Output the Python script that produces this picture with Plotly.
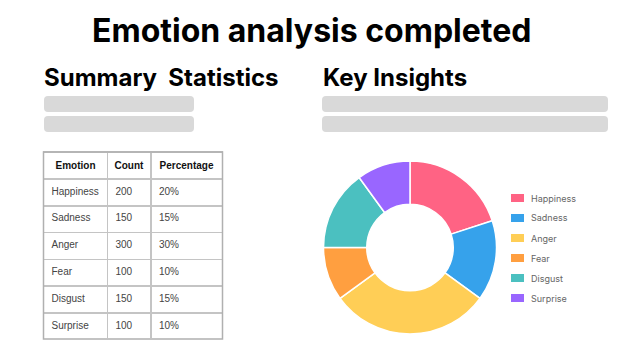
import plotly.graph_objects as go

W, H = 633, 360

emotions = ["Happiness", "Sadness", "Anger", "Fear", "Disgust", "Surprise"]
counts = [200, 150, 300, 100, 150, 100]
percentages = ["20%", "15%", "30%", "10%", "15%", "10%"]
colors = ["#FF6384", "#36A2EB", "#FFCE56", "#FF9F40", "#4BC0C0", "#9966FF"]
table_headers = ["Emotion", "Count", "Percentage"]

title_text = "Emotion analysis completed"
left_heading = "Summary&nbsp;&nbsp;Statistics"
right_heading = "Key Insights"


def px(x):
    return x / W


def py(y):
    return 1 - y / H


fig = go.Figure()

fig.add_trace(go.Table(
    domain=dict(x=[px(43.5), px(223)], y=[py(339), py(152)]),
    columnwidth=[64, 43.5, 71.5],
    header=dict(
        values=[f"<b>{h}</b>" for h in table_headers],
        align="center",
        font=dict(family="Liberation Sans, Arial", size=10, color="#111"),
        fill_color="white",
        line=dict(color="#c4c4c4", width=1.5),
        height=26,
    ),
    cells=dict(
        values=[emotions, [str(c) for c in counts], percentages],
        align="left",
        font=dict(family="Liberation Sans, Arial", size=10, color="#444"),
        fill_color="white",
        line=dict(color="#c4c4c4", width=1.5),
        height=26.8,
    ),
))

fig.add_trace(go.Pie(
    labels=emotions,
    values=counts,
    marker=dict(colors=colors, line=dict(color="white", width=1.5)),
    hole=0.5,
    sort=False,
    direction="clockwise",
    rotation=0,
    textinfo="none",
    domain=dict(x=[px(323), px(497)], y=[py(334), py(161)]),
    showlegend=False,
))

shapes = []
for (x0, x1) in [(44, 194), (322, 608)]:
    for (y0, y1) in [(96, 112), (116, 132)]:
        r = 4
        X0, X1 = px(x0), px(x1)
        Y0, Y1 = py(y1), py(y0)
        rx, ry = r / W, r / H
        path = (f"M{X0+rx},{Y0} L{X1-rx},{Y0} Q{X1},{Y0} {X1},{Y0+ry} "
                f"L{X1},{Y1-ry} Q{X1},{Y1} {X1-rx},{Y1} L{X0+rx},{Y1} "
                f"Q{X0},{Y1} {X0},{Y1-ry} L{X0},{Y0+ry} Q{X0},{Y0} {X0+rx},{Y0} Z")
        shapes.append(dict(type="path", xref="paper", yref="paper", path=path,
                           fillcolor="#d9d9d9", line=dict(width=0), layer="below"))

# outer table frame
shapes.append(dict(type="rect", xref="paper", yref="paper",
                   x0=px(43.5), x1=px(222.5), y0=py(339), y1=py(152),
                   line=dict(color="#b0b0b0", width=1.5), fillcolor="rgba(0,0,0,0)"))

annotations = [
    dict(text=f"<b>{title_text}</b>", x=px(311), y=py(30), xref="paper", yref="paper",
         showarrow=False, xanchor="center", yanchor="middle",
         font=dict(family="Inter", size=32, color="#000")),
    dict(text=f"<b>{left_heading}</b>", x=px(42), y=py(77), xref="paper", yref="paper",
         showarrow=False, xanchor="left", yanchor="middle",
         font=dict(family="Inter", size=24, color="#000")),
    dict(text=f"<b>{right_heading}</b>", x=px(321), y=py(77), xref="paper", yref="paper",
         showarrow=False, xanchor="left", yanchor="middle",
         font=dict(family="Inter", size=24, color="#000")),
]

# custom legend (Chart.js style)
for i, (name, col) in enumerate(zip(emotions, colors)):
    yc = 198 + 20 * i
    shapes.append(dict(type="rect", xref="paper", yref="paper",
                       x0=px(511), x1=px(524), y0=py(yc + 4), y1=py(yc - 4),
                       fillcolor=col, line=dict(width=0)))
    annotations.append(dict(text=name, x=px(529), y=py(yc), xref="paper", yref="paper",
                            showarrow=False, xanchor="left", yanchor="middle",
                            font=dict(family="Inter", size=9, color="#666")))

fig.update_layout(
    width=W, height=H,
    margin=dict(l=0, r=0, t=0, b=0),
    paper_bgcolor="white",
    plot_bgcolor="white",
    shapes=shapes,
    annotations=annotations,
    showlegend=False,
)

fig.write_html("out.html", config={"displayModeBar": False},
               post_script="document.body.style.margin='0';")
